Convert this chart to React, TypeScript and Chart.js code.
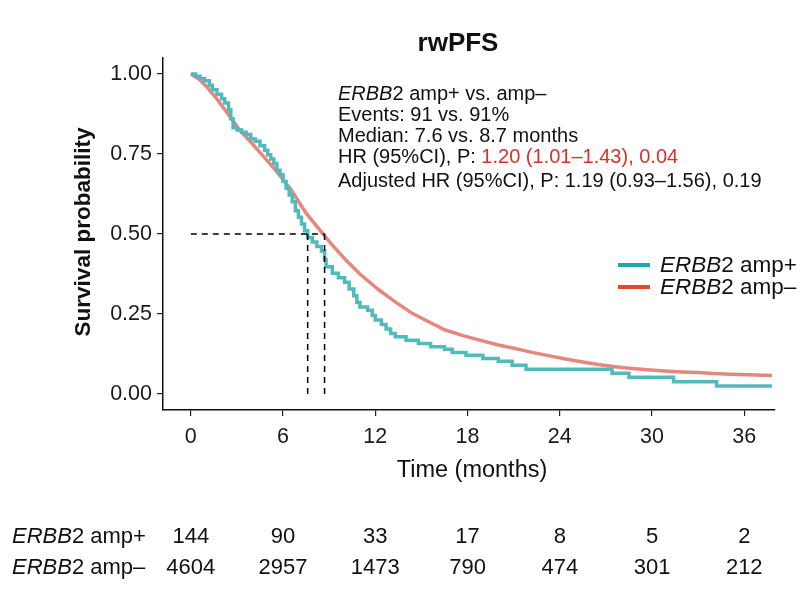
import React, { useEffect, useRef } from 'react';
import { Chart, registerables } from 'chart.js';

Chart.register(...registerables);

// ---------- data ----------
const timeTicks = [0, 6, 12, 18, 24, 30, 36];
const survTicks = [0, 0.25, 0.5, 0.75, 1];

// ERBB2 amp+ (step curve)
const ampPosTimes = [
  0, 0.3, 0.6, 0.9, 1.2, 1.4, 1.7, 2.0, 2.2, 2.45, 2.6, 2.75, 3.0, 3.3, 3.6, 3.9,
  4.2, 4.5, 4.8, 5.0, 5.2, 5.4, 5.6, 5.8, 6.0, 6.2, 6.4, 6.6, 6.8, 7.0, 7.2, 7.4,
  7.6, 7.9, 8.2, 8.5, 8.7, 8.8, 9.2, 9.6, 10.0, 10.3, 10.6, 10.8, 11.0, 11.5, 11.8,
  12.0, 12.4, 12.7, 13.0, 13.3, 14.0, 14.8, 15.6, 16.5, 17.0, 17.9, 19.0, 20.0,
  20.9, 21.8, 27.4, 28.5, 31.4, 34.2, 37.8,
];
const ampPosSurv = [
  1.0, 0.993, 0.986, 0.979, 0.965, 0.951, 0.937, 0.923, 0.909, 0.888, 0.86, 0.832,
  0.825, 0.818, 0.811, 0.797, 0.79, 0.776, 0.762, 0.748, 0.734, 0.72, 0.699, 0.685,
  0.664, 0.643, 0.622, 0.601, 0.573, 0.552, 0.531, 0.51, 0.489, 0.475, 0.461, 0.447,
  0.42, 0.398, 0.377, 0.363, 0.349, 0.328, 0.307, 0.286, 0.272, 0.262, 0.245, 0.231,
  0.217, 0.203, 0.189, 0.179, 0.168, 0.158, 0.148, 0.14, 0.13, 0.121, 0.111, 0.102,
  0.09, 0.077, 0.065, 0.052, 0.038, 0.025, 0.025,
];

// ERBB2 amp– (large group, visually smooth)
const ampNegTimes = [
  0, 0.5, 1.0, 1.66, 2.5, 3.17, 4.0, 5.0, 5.55, 6.5, 7.5, 8.57, 9.3, 10.08, 11.0,
  12.24, 13.3, 14.4, 15.5, 16.56, 17.6, 18.72, 20.0, 21.1, 22.2, 23.25, 24.3, 25.4,
  26.5, 27.6, 28.7, 29.7, 30.8, 31.9, 33.0, 34.0, 35.1, 36.2, 37.8,
];
const ampNegSurv = [
  1.0, 0.985, 0.962, 0.924, 0.87, 0.825, 0.782, 0.728, 0.697, 0.64, 0.565, 0.502,
  0.46, 0.419, 0.375, 0.325, 0.288, 0.252, 0.225, 0.2, 0.184, 0.169, 0.153, 0.142,
  0.13, 0.12, 0.11, 0.101, 0.092, 0.085, 0.08, 0.076, 0.072, 0.069, 0.067, 0.064,
  0.062, 0.06, 0.058,
];

const medianTimes = [7.6, 8.7];
const medianLevel = 0.5;

const riskTimes = [0, 6, 12, 18, 24, 30, 36];
const riskAmpPos = [144, 90, 33, 17, 8, 5, 2];
const riskAmpNeg = [4604, 2957, 1473, 790, 474, 301, 212];

const geneName = 'ERBB';
const groupSuffix = ['2 amp+', '2 amp–'];

// ---------- style ----------
const FONT = '"Liberation Sans", Arial, Helvetica, sans-serif';
const TEAL = '#52BABB';
const RED = '#E6877D';
const TEAL_LEG = '#1FAAAA';
const RED_LEG = '#E2492C';
const HR_RED = '#D8312C';

type Run = { text: string; italic?: boolean; bold?: boolean; color?: string };

function runsWidth(ctx: CanvasRenderingContext2D, runs: Run[], size: number) {
  let w = 0;
  for (const r of runs) {
    ctx.font = `${r.italic ? 'italic ' : ''}${r.bold ? 'bold ' : ''}${size}px ${FONT}`;
    w += ctx.measureText(r.text).width;
  }
  return w;
}

function drawRuns(
  ctx: CanvasRenderingContext2D,
  x: number,
  y: number,
  runs: Run[],
  size: number,
  align: 'left' | 'center' | 'right' = 'left'
) {
  const total = runsWidth(ctx, runs, size);
  let cx = align === 'left' ? x : align === 'center' ? x - total / 2 : x - total;
  ctx.textAlign = 'left';
  for (const r of runs) {
    ctx.font = `${r.italic ? 'italic ' : ''}${r.bold ? 'bold ' : ''}${size}px ${FONT}`;
    ctx.fillStyle = r.color || '#111';
    ctx.fillText(r.text, cx, y);
    cx += ctx.measureText(r.text).width;
  }
}

const annotationLines: Run[][] = [
  [{ text: geneName, italic: true }, { text: '2 amp+ vs. amp–' }],
  [{ text: 'Events: 91 vs. 91%' }],
  [{ text: 'Median: 7.6 vs. 8.7 months' }],
  [{ text: 'HR (95%CI), P: ' }, { text: '1.20 (1.01–1.43), 0.04', color: HR_RED }],
  [{ text: 'Adjusted HR (95%CI), P: 1.19 (0.93–1.56), 0.19' }],
];
const annotationBaselines = [100, 121, 142, 163, 187];

const textPlugin = {
  id: 'kmText',
  afterDraw(chart: any) {
    const ctx: CanvasRenderingContext2D = chart.ctx;
    const xs = chart.scales.x;
    ctx.save();
    ctx.textBaseline = 'alphabetic';

    // title
    drawRuns(ctx, 458, 51, [{ text: 'rwPFS', bold: true }], 26, 'center');

    // x title
    drawRuns(ctx, 472, 477, [{ text: 'Time (months)' }], 23.5, 'center');

    // y title
    ctx.save();
    ctx.translate(90, 232);
    ctx.rotate(-Math.PI / 2);
    drawRuns(ctx, 0, 0, [{ text: 'Survival probability', bold: true }], 22.5, 'center');
    ctx.restore();

    // annotation
    annotationLines.forEach((line, i) => drawRuns(ctx, 338, annotationBaselines[i], line, 20));

    // legend
    const legColors = [TEAL_LEG, RED_LEG];
    const legY = [265, 287];
    ctx.textBaseline = 'middle';
    legColors.forEach((c, i) => {
      ctx.strokeStyle = c;
      ctx.lineWidth = 4;
      ctx.beginPath();
      ctx.moveTo(618, legY[i]);
      ctx.lineTo(650, legY[i]);
      ctx.stroke();
      drawRuns(ctx, 660, legY[i] + 1, [{ text: geneName, italic: true }, { text: groupSuffix[i] }], 22.5);
    });

    // risk table
    ctx.textBaseline = 'alphabetic';
    const rows = [riskAmpPos, riskAmpNeg];
    const rowY = [543, 574];
    rows.forEach((vals, r) => {
      drawRuns(ctx, 12, rowY[r], [{ text: geneName, italic: true }, { text: groupSuffix[r] }], 22);
      vals.forEach((v, i) => {
        drawRuns(ctx, xs.getPixelForValue(riskTimes[i]), rowY[r], [{ text: String(v) }], 22, 'center');
      });
    });
    ctx.restore();
  },
};

export default function App() {
  const ref = useRef<HTMLCanvasElement | null>(null);

  useEffect(() => {
    if (!ref.current) return;
    const maxMed = Math.max(...medianTimes);
    const chart = new Chart(ref.current, {
      type: 'line',
      data: {
        datasets: [
          {
            label: 'median-h',
            data: [
              { x: 0, y: medianLevel },
              { x: maxMed, y: medianLevel },
            ],
            borderColor: '#000',
            borderWidth: 1.5,
            borderDash: [6, 5],
            pointRadius: 0,
            order: 0,
          },
          ...medianTimes.map((m) => ({
            label: 'median-v',
            data: [
              { x: m, y: medianLevel },
              { x: m, y: 0 },
            ],
            borderColor: '#000',
            borderWidth: 1.5,
            borderDash: [6, 5],
            pointRadius: 0,
            order: 0,
          })),
          {
            label: 'ERBB2 amp+',
            data: ampPosTimes.map((t, i) => ({ x: t, y: ampPosSurv[i] })),
            borderColor: TEAL,
            borderWidth: 3.5,
            stepped: 'before',
            pointRadius: 0,
            order: 1,
          },
          {
            label: 'ERBB2 amp–',
            data: ampNegTimes.map((t, i) => ({ x: t, y: ampNegSurv[i] })),
            borderColor: RED,
            borderWidth: 3.5,
            tension: 0,
            pointRadius: 0,
            order: 2,
          },
        ] as any,
      },
      options: {
        animation: false,
        responsive: false,
        maintainAspectRatio: false,
        layout: { padding: { left: 0, right: 25, top: 58, bottom: 0 } },
        plugins: {
          legend: { display: false },
          title: { display: false },
          tooltip: { enabled: false },
        },
        scales: {
          x: {
            type: 'linear',
            min: -1.81,
            max: 38,
            afterBuildTicks: (s: any) => {
              s.ticks = timeTicks.map((v) => ({ value: v }));
            },
            afterFit: (s: any) => {
              s.height = 187;
            },
            grid: {
              display: true,
              drawOnChartArea: false,
              drawTicks: true,
              tickLength: 6,
              color: '#222',
              lineWidth: 1.2,
            },
            border: { display: true, color: '#111', width: 1.5 },
            ticks: {
              font: { family: FONT, size: 21.5 },
              color: '#1a1a1a',
              padding: 8,
              maxRotation: 0,
              autoSkip: false,
              callback: (v: any) => String(v),
            },
          },
          y: {
            type: 'linear',
            min: -0.05,
            max: 1.05,
            afterBuildTicks: (s: any) => {
              s.ticks = survTicks.map((v) => ({ value: v }));
            },
            afterFit: (s: any) => {
              s.width = 163;
            },
            grid: {
              display: true,
              drawOnChartArea: false,
              drawTicks: true,
              tickLength: 6,
              color: '#222',
              lineWidth: 1.2,
            },
            border: { display: true, color: '#111', width: 1.5 },
            ticks: {
              font: { family: FONT, size: 21.5 },
              color: '#1a1a1a',
              padding: 5,
              autoSkip: false,
              callback: (v: any) => Number(v).toFixed(2),
            },
          },
        },
      } as any,
      plugins: [textPlugin],
    });
    return () => chart.destroy();
  }, []);

  return (
    <div style={{ position: 'absolute', left: 0, top: 0, width: 800, height: 597, background: '#fff' }}>
      <canvas ref={ref} width={800} height={597} style={{ width: 800, height: 597, display: 'block' }} />
    </div>
  );
}
